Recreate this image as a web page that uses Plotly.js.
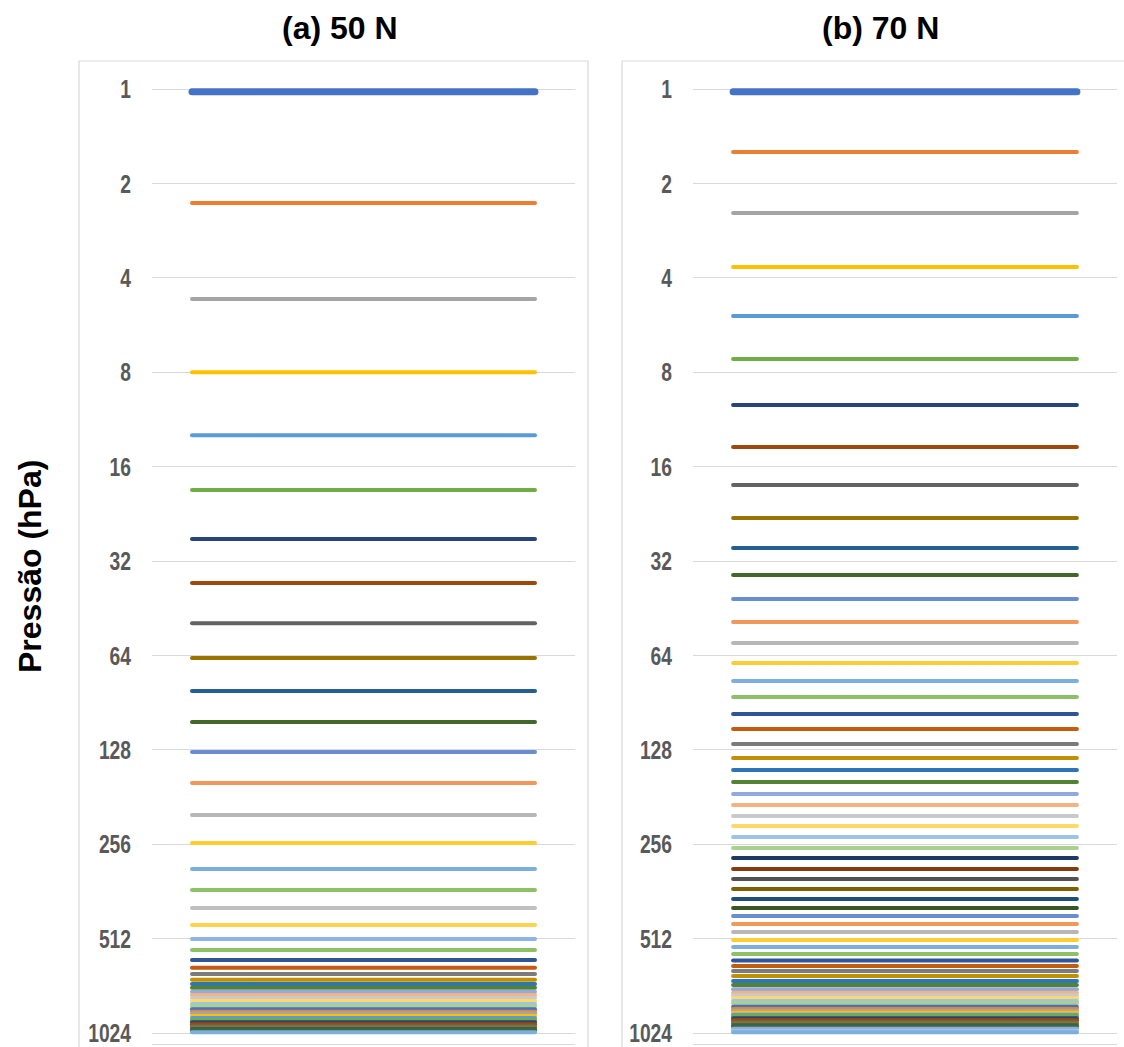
<!DOCTYPE html>
<html>
<head>
<meta charset="utf-8">
<script src="https://cdn.plot.ly/plotly-3.0.1.min.js"></script>
<style>
  html, body { margin: 0; padding: 0; background: #ffffff; }
  #chart { width: 1124px; height: 1047px; }
  .scatterlayer path.js-line { stroke-linecap: round; }
</style>
</head>
<body>
<div id="chart"></div>
<script>
// ---------------- DATA ----------------
const panelTitles = ['(a) 50 N', '(b) 70 N'];
const yAxisTitle = 'Pressão (hPa)';
const tickValues = [1, 2, 4, 8, 16, 32, 64, 128, 256, 512, 1024];
const tickLabels = ['1', '2', '4', '8', '16', '32', '64', '128', '256', '512', '1024'];

// Pressure levels (hPa) (a) 50 N
const pressuresA = [
  1.02, 2.31, 4.67, 8.0, 12.7, 19.0, 27.2, 37.6, 50.5, 65.2,
  83.1, 104.4, 130.1, 163.3, 206.6, 253.8, 307.1, 358.3, 409, 463.3,
  513.4, 556.7, 599.1, 634, 664, 692.4, 714.6, 734.3, 756.2, 774.8,
  790.3, 809.7, 827.7, 841.8, 860.5, 875.8, 886.1, 903.9, 917.3, 932.9,
  946.7, 960.7, 972.8, 982.1, 994.4, 1004, 1018.9
];

// Pressure levels (hPa) (b) 70 N
const pressuresB = [
  1.02, 1.588, 2.486, 3.695, 5.295, 7.262, 10.18, 13.86, 18.31, 23.34,
  29.09, 35.47, 42.30, 50.08, 58.42, 67.67, 77.23, 86.87, 98.41, 109.9,
  122.7, 135.9, 148.5, 162.1, 177.1, 191.9, 208.1, 224.0, 242.8, 263.3,
  283.3, 307.1, 330.5, 355.7, 382.8, 409.0, 433.7, 459.9, 487.7, 517.2,
  544.5, 573.2, 601.3, 625.9, 649.5, 673.7, 698.9, 719.7, 742.8, 761.6,
  776.3, 793.6, 809.7, 823.5, 844.3, 858.5, 869.3, 882.2, 895.2, 905.8,
  919.2, 932.9, 944.6, 953.6, 967.7, 977.8, 992.3, 1007, 1019
];

// ---------------- STYLE ----------------
const base    = ['#4472C4', '#ED7D31', '#A5A5A5', '#FFC000', '#5B9BD5', '#70AD47'];
const dark    = ['#264478', '#9E480E', '#636363', '#997300', '#255E91', '#43682B'];
const light   = ['#698ED0', '#F1975A', '#B7B7B7', '#FFCD33', '#7CAFDD', '#8CC168'];
const dark2   = ['#2F5597', '#C55A11', '#7B7B7B', '#BF9000', '#2E75B6', '#548235'];
const light2  = ['#8FAADC', '#F4B183', '#C9C9C9', '#FFD966', '#9DC3E6', '#A9D18E'];
const darker  = ['#203864', '#843C0C', '#525252', '#7F6000', '#1F4E79', '#385723'];

const colorsA = [].concat(base, dark, light,
  ['#C0C0C0', '#FFD34F', '#8EB4E3', '#8CC168'],
  dark2, light2, base, dark, ['#7CAFDD']);
const colorsB = [].concat(base, dark, light, dark2, light2, darker,
  light, dark2, light2, base, dark, ['#8FAADC', '#9DC3E6', '#7CAFDD']);

const W = 1124, H = 1047;
const marginT = 80, marginB = 3;
const plotH = H - marginT - marginB;
const px = v => v / W;                       // horizontal pixel -> paper
const py = v => (H - marginB - v) / plotH;   // vertical pixel -> paper

const gridColor = '#D9D9D9';
const tickFont = { family: 'Liberation Sans, Arial, sans-serif', size: 26, color: '#595959', weight: 'bold' };
const tickSqueeze = 0.74;   // narrow (condensed) look of the tick digits
const titleFont = { family: 'Liberation Sans, Arial, sans-serif', size: 32, color: '#000000', weight: 'bold' };

function makeTraces(pressures, colors, xa, ya) {
  return pressures.map((p, i) => ({
    type: 'scatter',
    mode: 'lines',
    x: [0, 1],
    y: [p, p],
    xaxis: xa,
    yaxis: ya,
    hoverinfo: 'skip',
    showlegend: false,
    line: { color: colors[i % colors.length], width: i === 0 ? 7 : 4 }
  }));
}

const traces = [].concat(
  makeTraces(pressuresA, colorsA, 'x', 'y'),
  makeTraces(pressuresB, colorsB, 'x2', 'y2')
);

const yRange = [Math.log10(1110), Math.log10(0.936)];
const xRange = [-0.1166, 1.1166];

function yAxisDef(anchor) {
  return {
    type: 'log',
    range: yRange,
    anchor: anchor,
    tickmode: 'array',
    tickvals: tickValues,
    ticktext: tickLabels,
    showgrid: true,
    gridcolor: gridColor,
    gridwidth: 1,
    zeroline: false,
    showline: false,
    ticks: '',
    ticklabelstandoff: 20,
    ticklabeloverflow: 'allow',
    tickfont: tickFont,
    fixedrange: true
  };
}
function xAxisDef(domain, anchor) {
  return {
    domain: domain,
    anchor: anchor,
    range: xRange,
    showgrid: false,
    zeroline: false,
    showticklabels: false,
    ticks: '',
    showline: true,
    linecolor: gridColor,
    linewidth: 1,
    fixedrange: true
  };
}

const layout = {
  width: W,
  height: H,
  margin: { l: 0, r: 0, t: marginT, b: marginB, pad: 0 },
  paper_bgcolor: '#FFFFFF',
  plot_bgcolor: '#FFFFFF',
  showlegend: false,
  xaxis: xAxisDef([px(152), px(575)], 'y'),
  yaxis: yAxisDef('x'),
  xaxis2: xAxisDef([px(693), px(1117)], 'y2'),
  yaxis2: yAxisDef('x2'),
  shapes: [
    { type: 'rect', xref: 'paper', yref: 'paper', x0: px(79), x1: px(588), y0: py(1060), y1: py(61),
      line: { color: gridColor, width: 1.2 }, fillcolor: 'rgba(0,0,0,0)', layer: 'below' },
    { type: 'rect', xref: 'paper', yref: 'paper', x0: px(622), x1: px(1140), y0: py(1060), y1: py(61),
      line: { color: gridColor, width: 1.2 }, fillcolor: 'rgba(0,0,0,0)', layer: 'below' }
  ],
  annotations: [
    { text: panelTitles[0], xref: 'paper', yref: 'paper', x: px(340), y: py(28),
      xanchor: 'center', yanchor: 'middle', showarrow: false, font: titleFont },
    { text: panelTitles[1], xref: 'paper', yref: 'paper', x: px(881), y: py(28),
      xanchor: 'center', yanchor: 'middle', showarrow: false, font: titleFont },
    { text: yAxisTitle, xref: 'paper', yref: 'paper', x: px(30), y: py(567),
      xanchor: 'center', yanchor: 'middle', textangle: -90, showarrow: false,
      font: { family: 'Liberation Sans, Arial, sans-serif', size: 32, color: '#000000', weight: 'bold' } }
  ]
};

Plotly.newPlot('chart', traces, layout, { displayModeBar: false, staticPlot: true }).then(gd => {
  gd.querySelectorAll('g.ytick text, g.y2tick text').forEach(t => {
    const w = t.getComputedTextLength();
    if (w > 0) {
      t.setAttribute('textLength', (w * tickSqueeze).toFixed(2));
      t.setAttribute('lengthAdjust', 'spacingAndGlyphs');
    }
  });
});
</script>
</body>
</html>
